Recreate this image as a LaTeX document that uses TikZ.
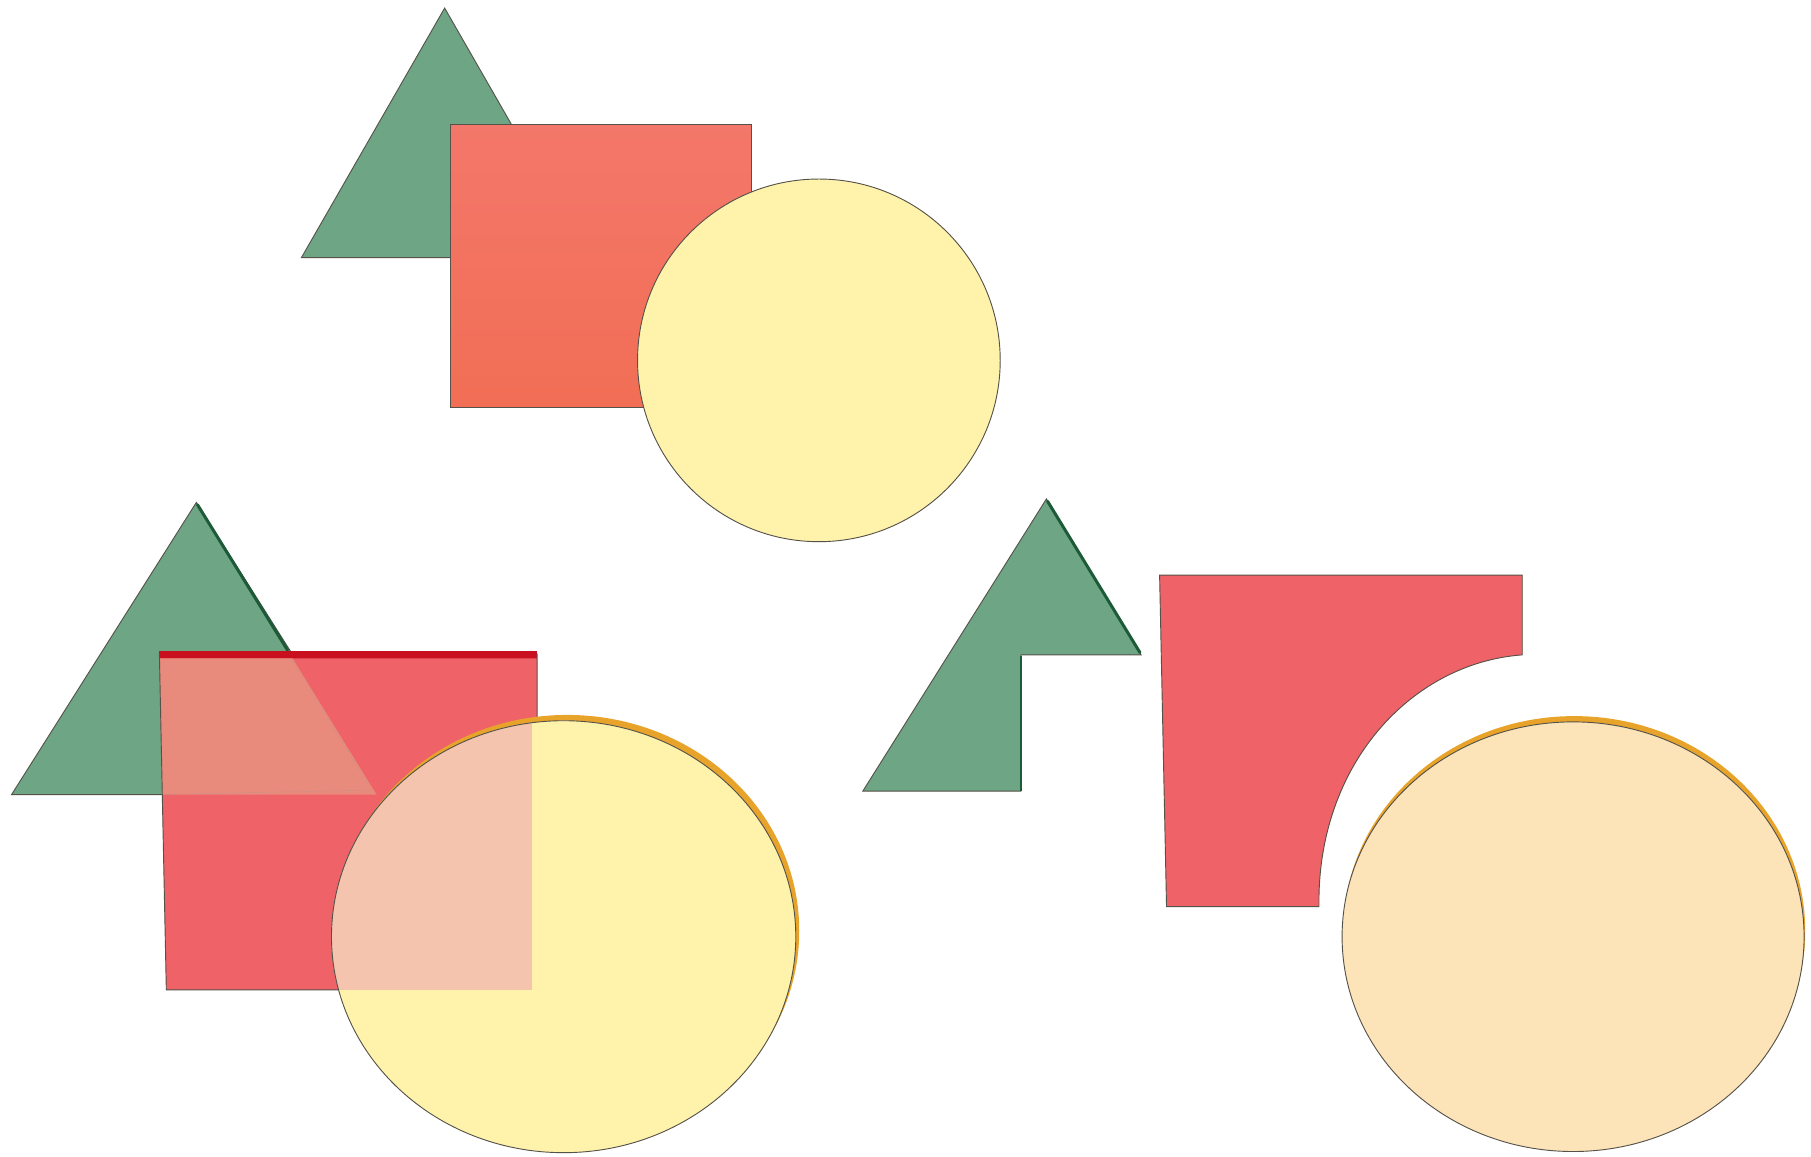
\documentclass[tikz,border=0pt]{standalone}
\definecolor{grn}{HTML}{6DA585}
\definecolor{grndark}{HTML}{1C5A38}
\definecolor{sqtop}{HTML}{F3776A}
\definecolor{sqbot}{HTML}{F26E55}
\definecolor{sqred}{HTML}{EE6268}
\definecolor{bandred}{HTML}{C8101E}
\definecolor{tripink}{HTML}{E88A7C}
\definecolor{yel}{HTML}{FFF3AC}
\definecolor{yelpink}{HTML}{F4C4AE}
\definecolor{peach}{HTML}{FCE3B8}
\definecolor{gold}{HTML}{E8A42A}
\definecolor{edge}{HTML}{55524A}
\begin{document}
\begin{tikzpicture}[x=1pt,y=-1pt,
  outline/.style={draw=edge, line width=0.8pt, line join=miter},
  greenshape/.style={fill=grn, outline},
  darkedge/.style={draw=grndark, line width=2.6pt, line cap=round}]
\useasboundingbox (0,0) rectangle (1568,1001);

% ---------- top group ----------
\path[greenshape] (385,7) -- (509,223) -- (261,223) -- cycle;
\path[top color=sqtop, bottom color=sqbot, outline] (390,108) rectangle (651,353);
\path[fill=yel, outline] (709,312) ellipse [x radius=157pt, y radius=157pt];

% ---------- bottom-left group ----------
\path[greenshape] (170,435) -- (330,688) -- (10,688) -- cycle;
\draw[darkedge] (171,437) -- (249,563);
\fill[bandred] (138,564) rectangle (465,571);
\fill[sqred] (138,570) -- (465,570) -- (465,857) -- (144,857) -- cycle;
\begin{scope}
  \clip (138,570) -- (465,570) -- (465,857) -- (144,857) -- cycle;
  \fill[tripink] (170,435) -- (326,688) -- (10,688) -- cycle;
  \draw[edge!60, line width=0.5pt, dotted] (248,563) -- (322,684) -- (140,688);
\end{scope}
\draw[edge, line width=0.8pt] (138,566) -- (144,857) -- (465,857) -- (465,566);
\begin{scope}[even odd rule]
  \clip (0,0) rectangle (1568,1001) (488,811) ellipse [x radius=201pt, y radius=187pt];
  \fill[gold] (491,806) ellipse [x radius=201pt, y radius=187pt];
\end{scope}
\fill[yel] (488,811) ellipse [x radius=201pt, y radius=187pt];
\begin{scope}
  \clip (488,811) ellipse [x radius=201pt, y radius=187pt];
  \fill[yelpink] (138,570) rectangle (461,857);
\end{scope}
\draw[edge, line width=0.8pt] (488,811) ellipse [x radius=201pt, y radius=187pt];

% ---------- bottom-right group ----------
\path[greenshape] (906,432) -- (988,567) -- (884,567) -- (884,685) -- (747,685) -- cycle;
\draw[darkedge] (907,434) -- (987,565);
\draw[grndark, line width=2pt] (884,568) -- (884,685);
\path[fill=sqred, outline] (1004,498) -- (1318,498) -- (1318,567)
  .. controls (1222,574) and (1140,662) .. (1142,785)
  -- (1010,785) -- cycle;
\begin{scope}[even odd rule]
  \clip (0,0) rectangle (1568,1001) (1362,811) ellipse [x radius=200pt, y radius=186pt];
  \fill[gold] (1363,806) ellipse [x radius=200pt, y radius=186pt];
\end{scope}
\path[fill=peach, outline] (1362,811) ellipse [x radius=200pt, y radius=186pt];
\end{tikzpicture}
\end{document}
